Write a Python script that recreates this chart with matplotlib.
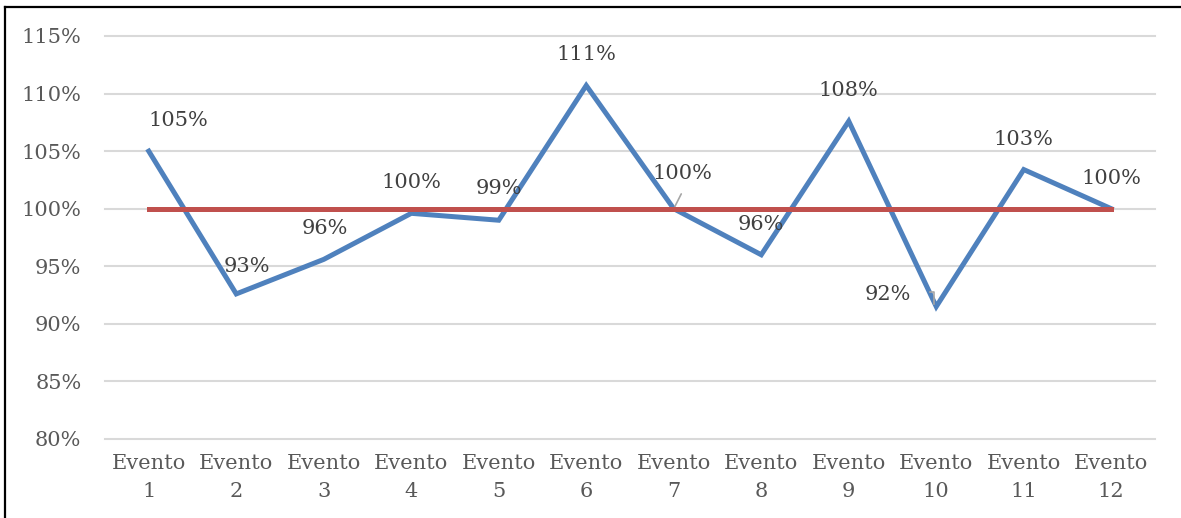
import matplotlib
matplotlib.use("Agg")
import matplotlib.pyplot as plt
from matplotlib.lines import Line2D

categories = [f"Evento\n{i}" for i in range(1, 13)]
values = [1.050, 0.926, 0.956, 0.996, 0.990, 1.107, 1.000, 0.960, 1.076, 0.915, 1.034, 1.000]
target = [1.0] * 12
labels = ["105%", "93%", "96%", "100%", "99%", "111%", "100%", "96%", "108%", "92%", "103%", "100%"]
yticks = [0.80, 0.85, 0.90, 0.95, 1.00, 1.05, 1.10, 1.15]
ytick_labels = ["80%", "85%", "90%", "95%", "100%", "105%", "110%", "115%"]
# label offsets in points (dx, dy)
offsets = [(21, 22), (8, 20), (1, 22), (0, 22), (0, 23), (0, 22), (6, 25), (0, 22), (0, 22), (-35, 9), (0, 22), (0, 22)]

plt.rcParams['font.family'] = ['DejaVu Serif']
fig = plt.figure(figsize=(11.81, 5.18), dpi=100)
ax = fig.add_axes([105/1181, 1-439/518, 1050/1181, 403/518])

x = list(range(1, 13))
ax.plot(x, values, color="#4F81BD", lw=3.6, solid_joinstyle="miter", zorder=3)
ax.plot(x, target, color="#C0504D", lw=3.6, zorder=4)

ax.set_xlim(0.5, 12.5)
ax.set_ylim(0.80, 1.15)
ax.set_yticks(yticks)
ax.set_yticklabels(ytick_labels)
ax.set_xticks(x)
ax.set_xticklabels(categories, linespacing=1.55)
ax.tick_params(axis="both", length=0, labelsize=15, colors="#595959")
ax.tick_params(axis="x", pad=11)
ax.tick_params(axis="y", pad=17)
ax.grid(axis="y", color="#D9D9D9", lw=1.5)
for gl in ax.get_ygridlines():
    gl.set_clip_on(False)
ax.set_axisbelow(True)
for s in ax.spines.values():
    s.set_visible(False)

for i, (xv, yv, lab) in enumerate(zip(x, values, labels)):
    dx, dy = offsets[i]
    ax.annotate(lab, (xv, yv), xytext=(dx, dy), textcoords="offset points",
                ha="center", va="center", fontsize=15, color="#404040", zorder=5)

# leader lines
ax.annotate("", (7, 1.0), xytext=(7.1, 1.015), arrowprops=dict(arrowstyle="-", color="#A6A6A6", lw=1.2))
ax.plot([9.93, 9.97, 9.97], [0.928, 0.928, 0.917], color="#A6A6A6", lw=1.2, zorder=5)

# figure border (left and top)
fig.add_artist(Line2D([5/1181, 5/1181], [0, 1-7/518], color="black", lw=1.6, transform=fig.transFigure))
fig.add_artist(Line2D([5/1181, 1], [1-7/518, 1-7/518], color="black", lw=1.6, transform=fig.transFigure))

fig.savefig("out.png", dpi=100)
